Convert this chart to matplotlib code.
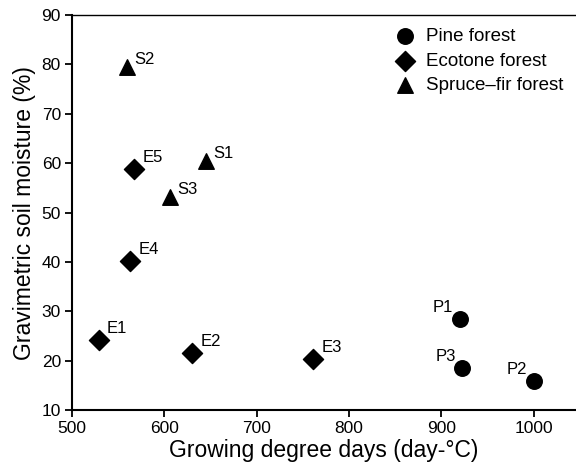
import matplotlib.pyplot as plt

plt.rcParams['font.family'] = ['Liberation Sans', 'DejaVu Sans']

# site values
pine_names = ['P1', 'P2', 'P3']
pine_gdd = [920, 1001, 923]
pine_moist = [28.5, 16.0, 18.6]

ecotone_names = ['E1', 'E2', 'E3', 'E4', 'E5']
ecotone_gdd = [529, 630, 761, 563, 567]
ecotone_moist = [24.3, 21.5, 20.3, 40.3, 58.8]

spruce_names = ['S1', 'S2', 'S3']
spruce_gdd = [645, 560, 606]
spruce_moist = [60.4, 79.5, 53.2]

fig = plt.figure(figsize=(5.76, 4.72), dpi=100)
ax = fig.add_axes([0.125, 0.131, 0.875, 0.837])

ax.scatter(pine_gdd, pine_moist, marker='o', s=125, c='black', label='Pine forest', zorder=3)
ax.scatter(ecotone_gdd, ecotone_moist, marker='D', s=105, c='black', label='Ecotone forest', zorder=3)
ax.scatter(spruce_gdd, spruce_moist, marker='^', s=125, c='black', label='Spruce\u2013fir forest', zorder=3)

# point labels: ecotone and spruce up-right, pine up-left
for n, x, y in zip(ecotone_names, ecotone_gdd, ecotone_moist):
    ax.annotate(n, (x, y), xytext=(6, 5), textcoords='offset points', fontsize=12)
for n, x, y in zip(spruce_names, spruce_gdd, spruce_moist):
    ax.annotate(n, (x, y), xytext=(5, 2), textcoords='offset points', fontsize=12)
for n, x, y in zip(pine_names, pine_gdd, pine_moist):
    ax.annotate(n, (x, y), xytext=(-5, 5), textcoords='offset points', fontsize=12, ha='right')

ax.set_xlim(500, 1046)
ax.set_ylim(10, 90)
ax.set_xticks([500, 600, 700, 800, 900, 1000])
ax.set_yticks(range(10, 91, 10))
ax.set_xlabel('Growing degree days (day-\u00b0C)', fontsize=16.5, labelpad=2)
ax.set_ylabel('Gravimetric soil moisture (%)', fontsize=16.5, labelpad=4)
ax.tick_params(labelsize=12.5, width=1.3, length=5, direction='out', pad=3)
for side in ['left', 'bottom']:
    ax.spines[side].set_linewidth(1.5)
ax.spines['top'].set_linewidth(1.0)
ax.spines['right'].set_visible(False)

ax.legend(loc='upper right', frameon=False, fontsize=13.5, handletextpad=0.1,
          labelspacing=0.38, borderaxespad=0.3, bbox_to_anchor=(1.0, 1.0))

fig.savefig('out.png', dpi=100)
